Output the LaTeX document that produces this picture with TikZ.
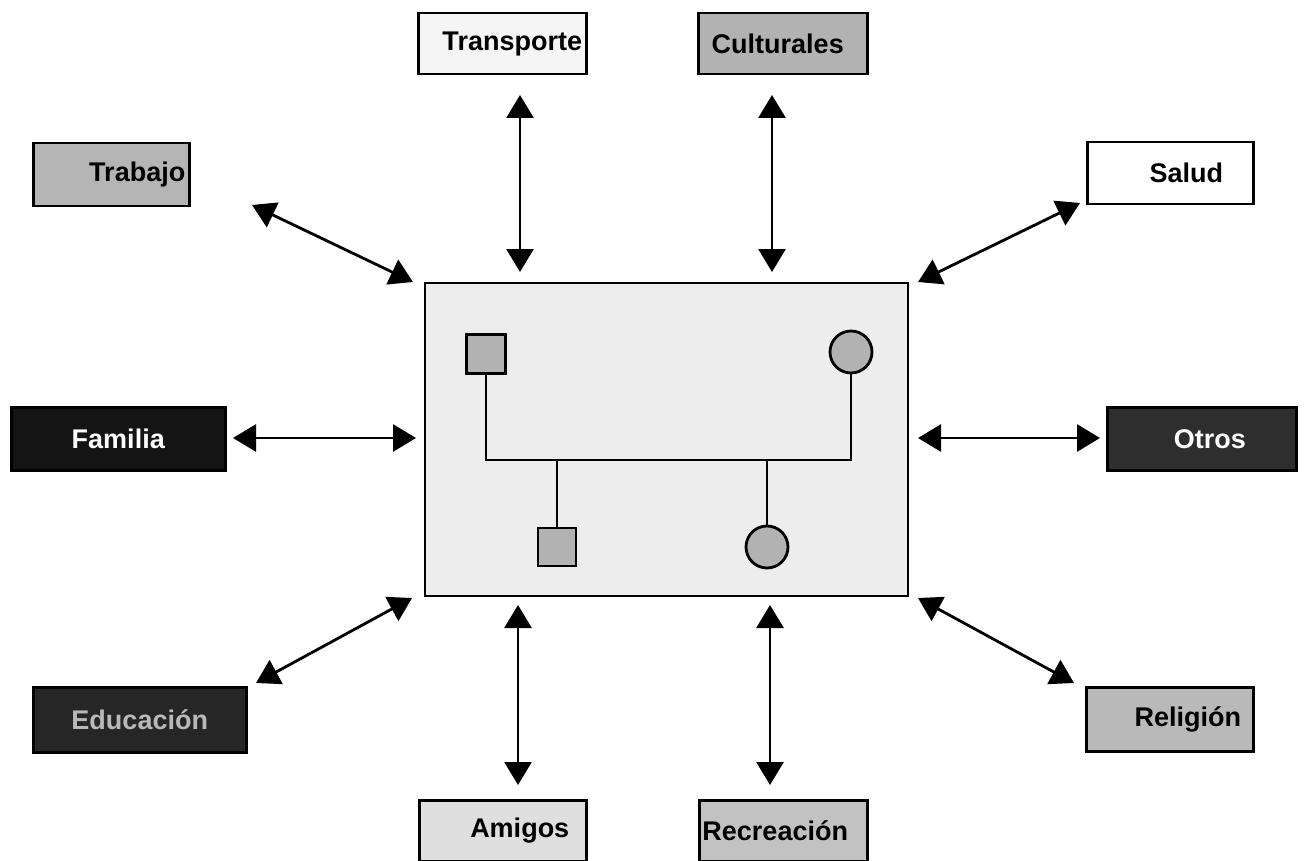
\documentclass[tikz,border=0pt]{standalone}
\usepackage{fontspec}
\setmainfont{Liberation Sans}
\usetikzlibrary{arrows.meta}
\newcommand{\shifttxt}[2]{\makebox[0pt]{\hspace*{#1pt}\hspace*{#1pt}#2}}
\begin{document}
\begin{tikzpicture}[x=1pt,y=-1pt,
  lbl/.style={draw=black,line width=2.5pt,font=\bfseries\fontsize{27}{32}\selectfont,inner sep=0pt,anchor=north west},
  link/.style={line width=2.8pt,{Triangle[length=23pt,width=27pt]}-{Triangle[length=23pt,width=27pt]}},
  member/.style={draw=black,line width=2.8pt,fill=gray!60,inner sep=0pt},
  tie/.style={line width=2.8pt}]
\useasboundingbox (0,0) rectangle (1309,861);
% labels
\node[lbl,fill=gray!8,minimum width=168pt,minimum height=61pt] (tra) at (417,12) {\shifttxt{10}{Transporte}};
\node[lbl,fill=gray!60,minimum width=169pt,minimum height=61pt] (cul) at (697,12) {\shifttxt{-5}{Culturales}};
\node[lbl,fill=gray!58,minimum width=156pt,minimum height=63pt] (trab) at (32,142) {\shifttxt{26}{Trabajo}};
\node[lbl,fill=white,minimum width=166pt,minimum height=62pt] (sal) at (1086,141) {\shifttxt{16}{Salud}};
\node[lbl,fill=black!92,text=white,minimum width=214pt,minimum height=63pt] (fam) at (10,406) {Familia};
\node[lbl,fill=black!82,text=white,minimum width=189pt,minimum height=63pt] (otr) at (1106,406) {\shifttxt{8}{Otros}};
\node[lbl,fill=black!85,text=gray!55,minimum width=213pt,minimum height=65pt] (edu) at (32,686) {Educación};
\node[lbl,fill=gray!55,minimum width=167pt,minimum height=64pt] (rel) at (1085,686) {\shifttxt{18}{Religión}};
\node[lbl,fill=gray!25,minimum width=167pt,minimum height=61pt] (ami) at (418,799) {\shifttxt{17}{Amigos}};
\node[lbl,fill=gray!48,minimum width=168pt,minimum height=61pt] (rec) at (698,799) {\shifttxt{-8}{Recreación}};
% central box
\node[draw=black,line width=1.5pt,fill=gray!14,minimum width=483pt,minimum height=313pt,inner sep=0pt,anchor=north west] (fam0) at (424,282) {};
% genogram
\node[member,minimum size=39pt] (f) at (486,354) {};
\node[member,circle,minimum size=42pt] (m) at (851,352) {};
\node[member,minimum size=38pt] (s) at (557,547) {};
\node[member,circle,minimum size=42pt] (d) at (767,547) {};
\coordinate (jl) at (486,460);
\coordinate (jr) at (851,460);
\draw[tie] (f.south) -- (jl) -- (jr) -- (m.south);
\draw[tie] (s.north) -- (s.north |- jl);
\draw[tie] (d.north) -- (d.north |- jl);
% arrow end points
\coordinate (a1) at (520,95);  \coordinate (b1) at (520,272);
\coordinate (a2) at (772,95);  \coordinate (b2) at (772,272);
\coordinate (a3) at (252,205); \coordinate (b3) at (413,282);
\coordinate (a4) at (1080,203);\coordinate (b4) at (918,282);
\coordinate (a5) at (233,438); \coordinate (b5) at (416,438);
\coordinate (a6) at (1100,438);\coordinate (b6) at (918,438);
\coordinate (a7) at (256,683); \coordinate (b7) at (412,598);
\coordinate (a8) at (1074,683);\coordinate (b8) at (918,598);
\coordinate (a9) at (518,785); \coordinate (b9) at (518,605);
\coordinate (a10) at (770,785);\coordinate (b10) at (770,605);
\foreach \i in {1,...,10} {\draw[link] (a\i) -- (b\i);}
\end{tikzpicture}
\end{document}
